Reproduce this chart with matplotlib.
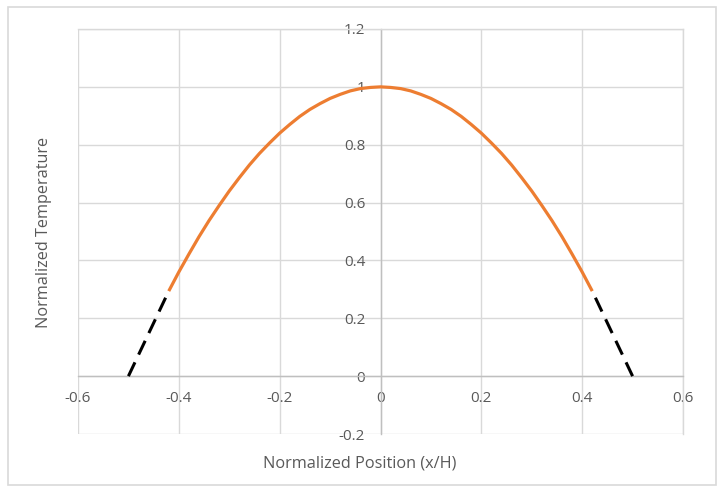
import matplotlib.pyplot as plt
from matplotlib.patches import Rectangle

# values
x_curve = [-0.42, -0.40, -0.38, -0.36, -0.34, -0.32, -0.30, -0.28, -0.26, -0.24, -0.22,
           -0.20, -0.18, -0.16, -0.14, -0.12, -0.10, -0.08, -0.06, -0.04, -0.02, 0.00,
           0.02, 0.04, 0.06, 0.08, 0.10, 0.12, 0.14, 0.16, 0.18, 0.20,
           0.22, 0.24, 0.26, 0.28, 0.30, 0.32, 0.34, 0.36, 0.38, 0.40, 0.42]
y_curve = [0.294, 0.360, 0.422, 0.482, 0.538, 0.590, 0.640, 0.686, 0.730, 0.770, 0.806,
           0.840, 0.870, 0.898, 0.922, 0.942, 0.960, 0.974, 0.986, 0.994, 0.998, 1.000,
           0.998, 0.994, 0.986, 0.974, 0.960, 0.942, 0.922, 0.898, 0.870, 0.840,
           0.806, 0.770, 0.730, 0.686, 0.640, 0.590, 0.538, 0.482, 0.422, 0.360, 0.294]
x_dash_left = [-0.50, -0.42]
y_dash_left = [0.0, 0.294]
x_dash_right = [0.50, 0.42]
y_dash_right = [0.0, 0.294]

x_ticks = [-0.6, -0.4, -0.2, 0, 0.2, 0.4, 0.6]
x_labels = ['-0.6', '-0.4', '-0.2', '0', '0.2', '0.4', '0.6']
y_ticks = [-0.2, 0, 0.2, 0.4, 0.6, 0.8, 1.0, 1.2]
y_labels = ['-0.2', '0', '0.2', '0.4', '0.6', '0.8', '1', '1.2']

plt.rcParams['font.family'] = ['Open Sans', 'DejaVu Sans']
text_col = '#595959'
grid_col = '#d9d9d9'
axis_col = '#bfbfbf'

fig = plt.figure(figsize=(7.23, 4.94), dpi=100)
fig.patches.append(Rectangle((8 / 723, 1 - 485 / 494), 708 / 723, 478 / 494,
                             transform=fig.transFigure, fill=False,
                             edgecolor=grid_col, linewidth=1.2))
ax = fig.add_axes([78 / 723, 1 - 434 / 494, 605 / 723, 405 / 494])

ax.plot(x_curve, y_curve, color='#ED7D31', linewidth=2.3, solid_capstyle='butt', zorder=4)
ax.plot(x_dash_left, y_dash_left, color='black', linewidth=2.2,
        linestyle=(0, (5, 2.8)), zorder=4)
ax.plot(x_dash_right, y_dash_right, color='black', linewidth=2.2,
        linestyle=(0, (5, 2.8)), zorder=4)

ax.set_xlim(-0.6, 0.6)
ax.set_ylim(-0.2, 1.2)
ax.set_xticks(x_ticks)
ax.set_xticklabels(x_labels)
ax.set_yticks(y_ticks)
ax.set_yticklabels(y_labels)
ax.grid(True, color=grid_col, linewidth=1.0)
ax.set_axisbelow(True)

ax.spines['left'].set_position('zero')
ax.spines['bottom'].set_position('zero')
ax.spines['left'].set_color(axis_col)
ax.spines['bottom'].set_color(axis_col)
ax.spines['top'].set_color(grid_col)
ax.spines['right'].set_color(grid_col)
for s in ax.spines.values():
    s.set_linewidth(1.0)

ax.tick_params(axis='both', length=0, labelsize=11, labelcolor=text_col)
ax.tick_params(axis='x', pad=11)
ax.tick_params(axis='y', pad=11)

fig.text(360 / 723, 1 - 463 / 494, 'Normalized Position (x/H)', ha='center', va='center',
         fontsize=11.7, color=text_col)
fig.text(44 / 723, 1 - 232 / 494, 'Normalized Temperature', ha='center', va='center',
         rotation=90, fontsize=11.7, color=text_col)

fig.savefig('out.png', dpi=100)
